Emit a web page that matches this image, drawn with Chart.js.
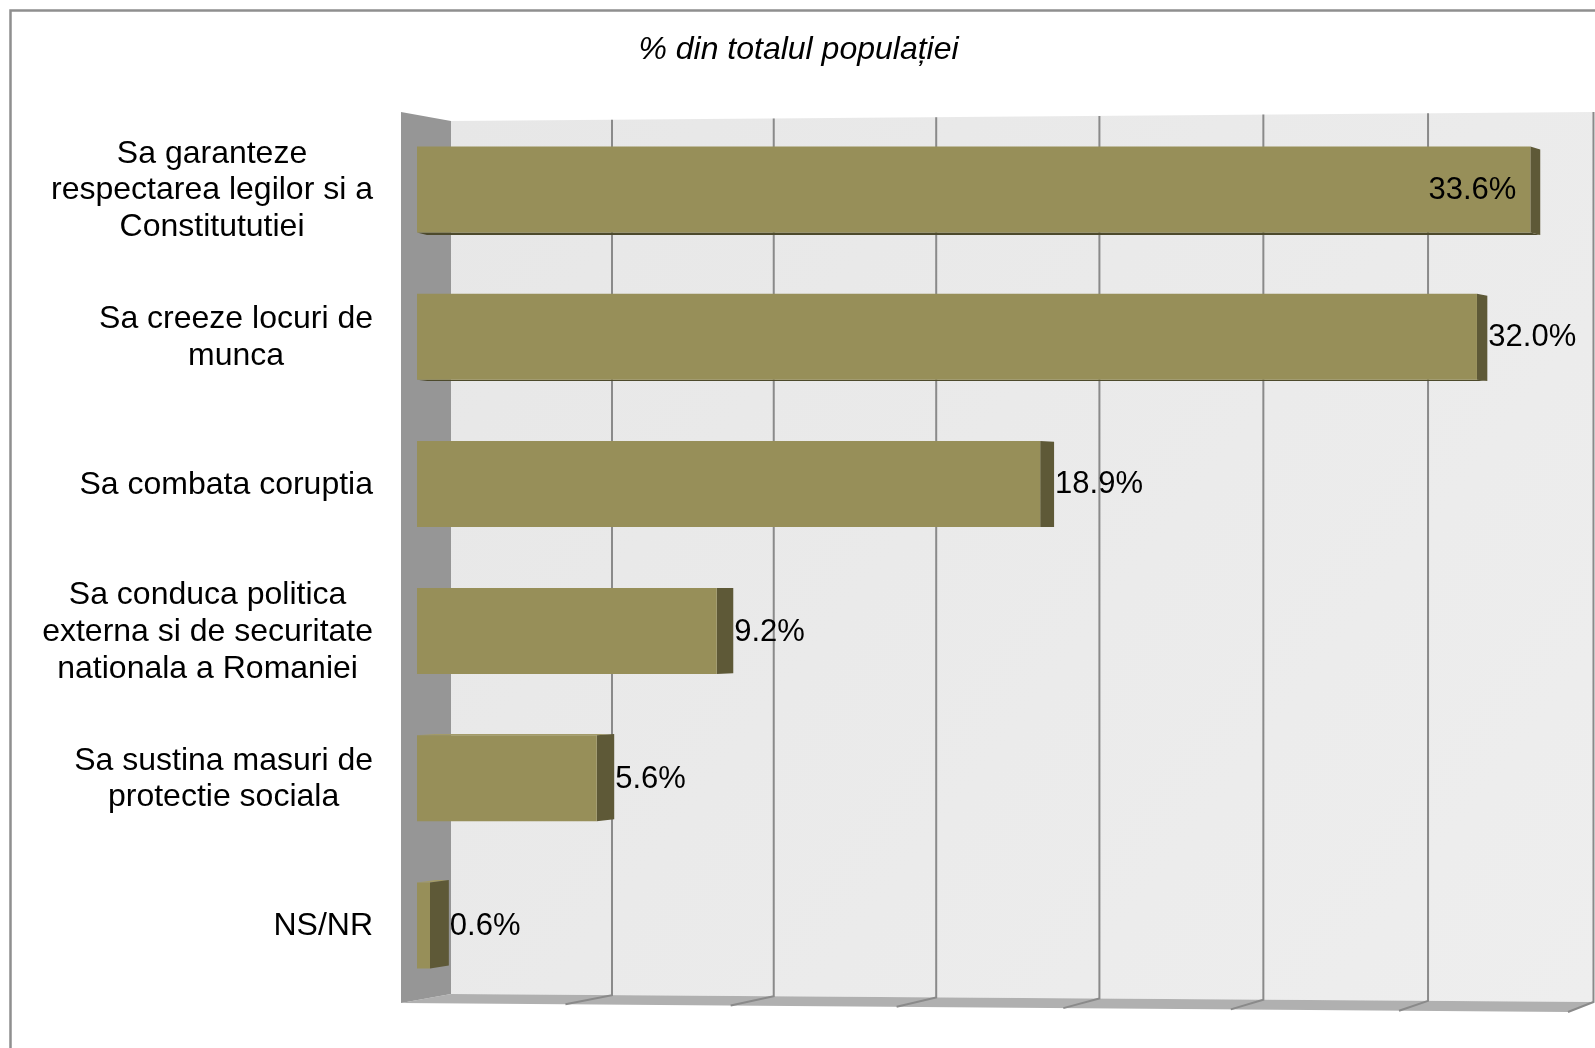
<!DOCTYPE html>
<html>
<head>
<meta charset="utf-8">
<title>% din totalul populației</title>
<script src="https://cdn.jsdelivr.net/npm/chart.js@4.4.0/dist/chart.umd.min.js"></script>
<style>
    html, body { margin: 0; padding: 0; background: #ffffff; }
    #wrap { width: 1595px; height: 1048px; position: relative; }
</style>
</head>
<body>
<div id="wrap"><canvas id="chart"></canvas></div>
<script>
// --- data ---
const categories = [
    ['Sa garanteze', 'respectarea legilor si a', 'Constitututiei'],
    ['Sa creeze locuri de', 'munca'],
    ['Sa combata coruptia'],
    ['Sa conduca politica', 'externa si de securitate', 'nationala a Romaniei'],
    ['Sa sustina masuri de', 'protectie sociala'],
    ['NS/NR']
];
const values = [33.6, 32.0, 18.9, 9.2, 5.6, 0.6];
const axisTicks = [0, 5, 10, 15, 20, 25, 30, 35];
const chartTitle = '% din totalul populației';

const FONT = '"Liberation Sans", Arial, sans-serif';
const BAR_FRONT = '#978f59';
const BAR_SIDE = '#5e5937';
const GRID = '#8a8a8a';

// projection helpers for the fake 3D box (walls sit behind the bar plane)
function sceneGeom(chart) {
    const a = chart.chartArea;
    const xs = chart.scales.x;
    const span = a.right - a.left;
    // slight perspective bend: t' = t / (1 + c(1 - t))
    const bend = px => {
        const t = (px - a.left) / span;
        return a.left + span * t / (1 + 0.016 * (1 - t));
    };
    const backX = v => a.left + 41 + (bend(xs.getPixelForValue(v)) - a.left) * 0.979;
    const frontX = v => bend(xs.getPixelForValue(v)) - 9;
    const bx0 = backX(axisTicks[0]), bx1 = backX(axisTicks[axisTicks.length - 1]);
    const fx0 = frontX(axisTicks[0]), fx1 = frontX(axisTicks[axisTicks.length - 1]);
    return {
        a, backX, frontX, bx0, bx1, fx0, fx1,
        backTop: x => a.top + 5 - 9 * (x - bx0) / (bx1 - bx0),
        backBot: x => a.bottom - 5 + 8 * (x - bx0) / (bx1 - bx0),
        frontBot: x => a.bottom + 4 + 9 * (x - fx0) / (fx1 - fx0)
    };
}

function poly(ctx, pts, fill) {
    ctx.beginPath();
    ctx.moveTo(pts[0][0], pts[0][1]);
    for (let i = 1; i < pts.length; i++) ctx.lineTo(pts[i][0], pts[i][1]);
    ctx.closePath();
    ctx.fillStyle = fill;
    ctx.fill();
}

// side depth of a bar end, shrinks towards the right like the perspective in the picture
function barDepth(a, x) {
    return 19 - 0.0081 * (x - a.left);
}
function barLift(a, y) {
    return ((a.top + a.bottom) / 2 - y) * 0.0072;
}

const scene3d = {
    id: 'scene3d',
    beforeDatasetsDraw(chart) {
        const ctx = chart.ctx;
        const g = sceneGeom(chart);
        const a = g.a;
        ctx.save();

        // back wall
        const grad = ctx.createLinearGradient(g.bx0, a.top, g.bx1, a.bottom);
        grad.addColorStop(0, '#e7e7e7');
        grad.addColorStop(1, '#eeeeee');
        poly(ctx, [
            [g.bx0, g.backTop(g.bx0)], [g.bx1, g.backTop(g.bx1)],
            [g.bx1, g.backBot(g.bx1)], [g.bx0, g.backBot(g.bx0)]
        ], grad);

        // floor
        poly(ctx, [
            [g.fx0, g.frontBot(g.fx0)], [g.fx1, g.frontBot(g.fx1)],
            [g.bx1, g.backBot(g.bx1)], [g.bx0, g.backBot(g.bx0)]
        ], '#b0b0b0');

        // left wall
        poly(ctx, [
            [g.fx0, a.top - 4], [g.bx0, g.backTop(g.bx0)],
            [g.bx0, g.backBot(g.bx0)], [g.fx0, g.frontBot(g.fx0)]
        ], '#969696');

        // gridlines on the wall and their ticks across the floor
        ctx.strokeStyle = GRID;
        ctx.lineWidth = 2;
        axisTicks.slice(1).forEach(v => {
            const x = g.backX(v);
            const fx = g.frontX(v);
            ctx.beginPath();
            ctx.moveTo(x, g.backTop(x));
            ctx.lineTo(x, g.backBot(x));
            ctx.lineTo(fx, g.frontBot(fx));
            ctx.stroke();
        });

        // side / top / bottom faces of the bars
        const meta = chart.getDatasetMeta(0);
        meta.data.forEach(el => {
            const x0 = a.left + 7;
            const x1 = el.x;
            const top = el.y - el.height / 2;
            const bot = el.y + el.height / 2;
            const d = barDepth(a, x1);
            const dyT = barLift(a, top);
            const dyB = barLift(a, bot);
            if (dyB > 0) {
                poly(ctx, [[x0, bot], [x1, bot], [x1 + d, bot + dyB], [x0 + d, bot + dyB]], '#4d4a2c');
            }
            if (dyT < 0) {
                poly(ctx, [[x0, top], [x1, top], [x1 + d, top + dyT], [x0 + d, top + dyT]], '#a39b68');
            }
            poly(ctx, [[x1, top], [x1 + d, top + dyT], [x1 + d, bot + dyB], [x1, bot]], BAR_SIDE);
        });

        ctx.restore();

        // bars start a little right of the scale origin, in front of the side wall
        ctx.save();
        ctx.beginPath();
        ctx.rect(a.left + 7, 0, chart.width, chart.height);
        ctx.clip();
    },
    afterDatasetsDraw(chart) {
        const ctx = chart.ctx;
        ctx.restore();

        const a = chart.chartArea;
        const meta = chart.getDatasetMeta(0);
        ctx.save();
        ctx.font = '31px ' + FONT;
        ctx.fillStyle = '#000000';
        ctx.textBaseline = 'middle';
        meta.data.forEach((el, i) => {
            const txt = values[i].toFixed(1) + '%';
            const w = ctx.measureText(txt).width;
            const sideEnd = el.x + barDepth(a, el.x);
            if (sideEnd + w > chart.width - 4) {
                ctx.textAlign = 'right';
                ctx.fillText(txt, el.x - 14, el.y + 1);
            } else {
                ctx.textAlign = 'left';
                ctx.fillText(txt, sideEnd + 1, el.y + 1);
            }
        });
        ctx.restore();
    },
    afterDraw(chart) {
        const ctx = chart.ctx;
        const a = chart.chartArea;
        const ys = chart.scales.y;

        // category labels: each block centred on itself, block right-aligned to the axis
        ctx.save();
        ctx.font = '32px ' + FONT;
        ctx.fillStyle = '#000000';
        ctx.textAlign = 'center';
        ctx.textBaseline = 'middle';
        const lineH = 36.6;
        categories.forEach((lines, i) => {
            const y = ys.getPixelForValue(i);
            const maxW = Math.max(...lines.map(t => ctx.measureText(t).width));
            const cx = a.left - 37 - maxW / 2;
            lines.forEach((t, j) => {
                ctx.fillText(t, cx, y + 1 + (j - (lines.length - 1) / 2) * lineH);
            });
        });
        ctx.restore();

        // outer frame (right and bottom edges fall outside the picture)
        ctx.save();
        ctx.strokeStyle = '#8f8f8f';
        ctx.lineWidth = 2.5;
        ctx.strokeRect(10.5, 10.5, chart.width + 20, chart.height + 20);
        ctx.restore();
    }
};

new Chart(document.getElementById('chart'), {
    type: 'bar',
    data: {
        labels: categories,
        datasets: [{
            data: values,
            backgroundColor: BAR_FRONT,
            borderWidth: 0,
            barPercentage: 0.584,
            categoryPercentage: 1.0
        }]
    },
    options: {
        indexAxis: 'y',
        responsive: true,
        maintainAspectRatio: false,
        animation: false,
        layout: {
            padding: { left: 20, right: 18, top: 0, bottom: 49 }
        },
        scales: {
            x: {
                display: false,
                min: axisTicks[0],
                max: axisTicks[axisTicks.length - 1],
                ticks: { stepSize: 5 }
            },
            y: {
                display: true,
                ticks: { display: false },
                grid: { display: false, drawTicks: false },
                border: { display: false },
                afterFit(scale) { scale.width = 390; }
            }
        },
        plugins: {
            legend: { display: false },
            tooltip: { enabled: false },
            title: {
                display: true,
                text: chartTitle,
                color: '#000000',
                font: { family: FONT, size: 32, style: 'italic', weight: 'normal' },
                padding: { top: 31, bottom: 46.6 }
            }
        }
    },
    plugins: [scene3d]
});
</script>
</body>
</html>
